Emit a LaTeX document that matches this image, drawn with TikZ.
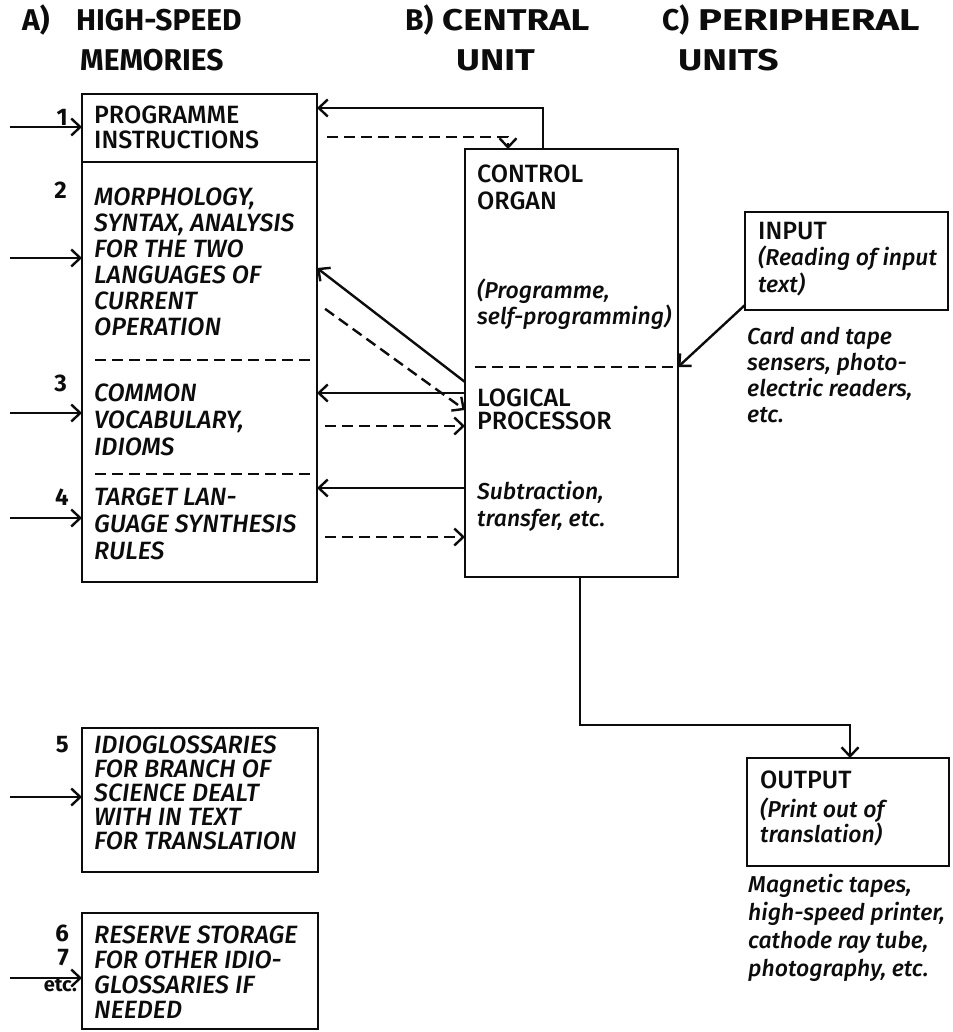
\documentclass[tikz,border=0pt]{standalone}
\usepackage{fontspec}
\setmainfont{Fira Sans}[UprightFont={Fira Sans Medium}, ItalicFont={Fira Sans Medium Italic}, BoldFont={Fira Sans Bold}]
\usepackage{tikz}
\usetikzlibrary{arrows.meta, positioning, calc}
\definecolor{ink}{RGB}{12,12,12}
\tikzset{
  box/.style={rectangle, draw=ink, line width=2.6pt, inner sep=0pt,
    outer sep=0pt, anchor=north west},
  txt/.style={anchor=north west, inner sep=0pt, align=left, text=ink,
    font=\fontsize{25}{#1}\selectfont},
  txt/.default=25,
  itxt/.style={anchor=north west, inner sep=0pt, align=left, text=ink,
    font=\fontsize{25}{#1}\selectfont\itshape},
  itxt/.default=26,
  ltxt/.style={anchor=north west, inner sep=0pt, align=left, text=ink,
    font=\fontsize{23}{#1}\selectfont\itshape},
  ltxt/.default=26,
  hdr/.style={anchor=base west, inner sep=0pt, text=ink,
    font=\fontsize{30}{30}\selectfont\bfseries},
  num/.style={anchor=east, inner sep=0pt, text=ink,
    font=\fontsize{24}{24}\selectfont\bfseries},
  arrow/.style={-{Straight Barb[length=9pt, width=17pt]}, line width=2.4pt, color=ink},
  darrow/.style={arrow, dash pattern=on 11pt off 6pt},
  divider/.style={line width=2.4pt, color=ink, dash pattern=on 11pt off 6pt}
}

\begin{document}
\begin{tikzpicture}[x=1pt, y=-1pt]
  \useasboundingbox (0,0) rectangle (952,1032);

  % Column headings
  \node[hdr] (ha) at (22,31) {A)};
  \node[hdr] (ha1) at (76,31) {HIGH-SPEED};
  \node[hdr] (ha2) at (80,71) {MEMORIES};
  \node[hdr] (hb) at (405,31) {B)};
  \node[hdr] (hb1) at (442,31) {\scalebox{1.22}[1]{CENTRAL}};
  \node[hdr] (hb2) at (456,71) {\scalebox{1.22}[1]{UNIT}};
  \node[hdr] (hc) at (662,31) {C)};
  \node[hdr] (hc1) at (698,31) {\scalebox{1.33}[1]{PERIPHERAL}};
  \node[hdr] (hc2) at (678,71) {\scalebox{1.24}[1]{UNITS}};

  % High-speed memories
  \node[box, minimum width=235pt, minimum height=68pt] (prog) at (82,94) {};
  \node[box, minimum width=235pt, minimum height=420pt] (lang) at (82,162) {};
  \node[box, minimum width=236pt, minimum height=144pt] (idio) at (82,728) {};
  \node[box, minimum width=236pt, minimum height=116pt] (resv) at (82,913) {};
  \draw[divider] (95,360) -- (312,360);
  \draw[divider] (95,474) -- (312,474);

  \node[txt=25] (progtxt) at (94,106) {PROGRAMME\\INSTRUCTIONS};
  \node[itxt=26] (morphtxt) at (94,188) {MORPHOLOGY,\\SYNTAX, ANALYSIS\\FOR THE TWO\\LANGUAGES OF\\CURRENT\\OPERATION};
  \node[itxt=27] (vocabtxt) at (94,384) {COMMON\\VOCABULARY,\\IDIOMS};
  \node[itxt=27] (targtxt) at (94,488) {TARGET LAN-\\GUAGE SYNTHESIS\\RULES};
  \node[itxt=24] (idiotxt) at (94,736) {IDIOGLOSSARIES\\FOR BRANCH OF\\SCIENCE DEALT\\WITH IN TEXT\\FOR TRANSLATION};
  \node[itxt=25] (resvtxt) at (94,926) {RESERVE STORAGE\\FOR OTHER IDIO-\\GLOSSARIES IF\\NEEDED};

  \node[num] (n1) at (68,117) {1};
  \node[num] (n2) at (67,190) {2};
  \node[num] (n3) at (67,383) {3};
  \node[num] (n4) at (69,497) {4};
  \node[num] (n5) at (69,745) {5};
  \node[num] (n6) at (69,933) {6};
  \node[num] (n7) at (69,958) {7};
  \node[num, font=\fontsize{20}{20}\selectfont\bfseries] (netc) at (77,985) {etc.};

  \foreach \n/\y in {prog/127, lang/258, lang/413, lang/518, idio/797, resv/978}
    \draw[arrow] (10,\y) -- (\n.west |- 0,\y);

  % Central unit
  \node[box, minimum width=213pt, minimum height=428pt] (cu) at (465,149) {};
  \draw[divider] (475,367) -- (cu.east |- 0,367);
  \node[txt=27] (ctrltxt) at (477,165) {CONTROL\\ORGAN};
  \node[ltxt=23] (selftxt) at (477,279) {(Programme,\\self-programming)};
  \node[txt=23] (logtxt) at (477,389) {LOGICAL\\PROCESSOR};
  \node[ltxt=27] (subtxt) at (477,481) {Subtraction,\\transfer, etc.};

  % Peripheral units
  \node[box, minimum width=203pt, minimum height=98pt] (inp) at (745,212) {};
  \node[txt=24] (inptxt) at (758,222) {INPUT};
  \node[ltxt=27] (readtxt) at ([yshift=-24pt]inptxt.north west) {(Reading of input\\text)};
  \node[ltxt=26] (cardtxt) at (747,327) {Card and tape\\sensers, photo-\\electric readers,\\etc.};

  \node[box, minimum width=202pt, minimum height=108pt] (outp) at (747,758) {};
  \node[txt] (outtxt) at (760,771) {OUTPUT};
  \node[ltxt=25] (printtxt) at ([yshift=-27pt]outtxt.north west) {(Print out of\\translation)};
  \node[ltxt=28] (magtxt) at (748,874) {Magnetic tapes,\\high-speed printer,\\cathode ray tube,\\photography, etc.};

  % Connections
  \draw[arrow] (cu.north -| 543,0) |- (prog.east |- 0,108);
  \draw[darrow, shorten <=10pt] (prog.east |- 0,137) -| (cu.north -| 508,0);
  \draw[arrow] (cu.west |- 0,382) -- (lang.east |- 0,268);
  \draw[darrow, shorten <=10pt] (lang.east |- 0,303) -- (cu.west |- 0,410);
  \draw[arrow] (cu.west |- 0,393) -- (lang.east |- 0,393);
  \draw[darrow, shorten <=8pt] (lang.east |- 0,426) -- (cu.west |- 0,426);
  \draw[arrow] (cu.west |- 0,488) -- (lang.east |- 0,488);
  \draw[darrow, shorten <=8pt] (lang.east |- 0,537) -- (cu.west |- 0,537);
  \draw[arrow] ([yshift=5pt]inp.south west) -- (cu.east |- 0,367);
  \coordinate (bend) at (850,725);
  \draw[arrow] (cu.south -| 580,0) |- (bend) -- (outp.north -| bend);

\end{tikzpicture}
\end{document}
